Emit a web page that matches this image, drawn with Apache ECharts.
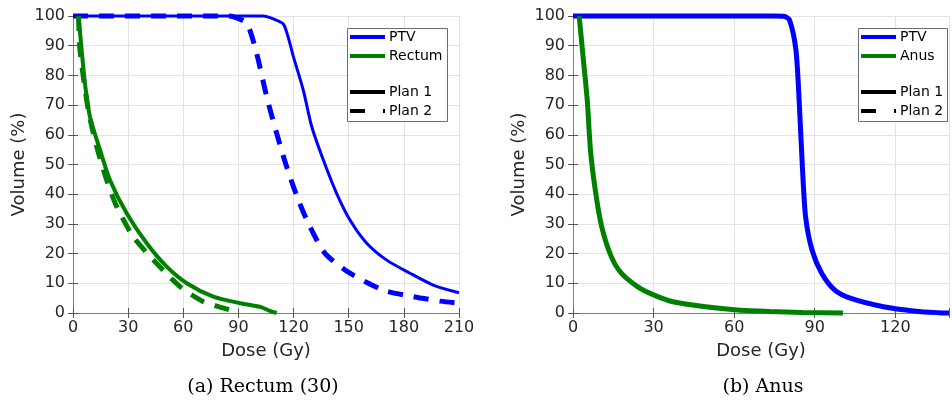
<!DOCTYPE html>
<html>
<head>
<meta charset="utf-8">
<script src="https://cdn.jsdelivr.net/npm/echarts@6/dist/echarts.min.js"></script>
<style>
html,body{margin:0;padding:0;background:#fff;}
#main{width:952px;height:401px;}
</style>
</head>
<body>
<div id="main"></div>
<script>
// (a) Rectum (30)
var ptvDose1 = [0, 60, 100, 103.5, 109, 114.4, 117, 119.9, 125.3, 129.9, 136.2, 143.4, 150.7, 159.8, 170.7, 183.3, 196, 210];
var ptvVol1  = [100, 100, 100, 100, 99, 97.3, 93, 86.3, 75, 62.7, 51.5, 40.3, 31.3, 23.5, 17.8, 13.4, 9.4, 6.8];
var ptvDose2 = [0, 60, 84, 87, 94.5, 99.9, 105.4, 110.8, 116.2, 122.6, 128.9, 137.1, 150.7, 168.8, 185.1, 200, 210];
var ptvVol2  = [100, 100, 100, 99.8, 97.5, 87.4, 72.8, 60.5, 49.3, 38, 29.1, 20.1, 13.4, 7.7, 5.5, 4, 3.3];
var rectumDose1 = [3, 4.7, 6.5, 9.2, 14.7, 20.1, 29.2, 40.1, 51, 61.9, 76.3, 90.9, 101.7, 106, 110.8];
var rectumVol1  = [100, 88.6, 77.3, 66.1, 54.9, 44.8, 33.6, 23.5, 15.6, 10, 5.5, 3.3, 2.1, 1, 0];
var rectumDose2 = [3, 3.8, 8.3, 12.9, 18.3, 23.8, 32.8, 45.5, 58.2, 70.9, 80, 89.5];
var rectumVol2  = [100, 88.6, 68.4, 56, 44.8, 35.8, 25.7, 16.7, 8.9, 3.8, 2, 0.3];

// (b) Anus
var ptvDoseB = [0, 60, 75, 78.5, 80.6, 83, 84.2, 85.4, 86.6, 89, 92.6, 97.5, 103.5, 115.6, 127.6, 136, 140];
var ptvVolB  = [100, 100, 100, 99.9, 98.7, 88.6, 71.7, 49.3, 32.4, 21.2, 13.4, 7.7, 4.9, 2.1, 0.6, 0.1, 0];
var anusDose = [2.3, 3.5, 5.3, 6.5, 8.3, 10.7, 14.3, 18, 24, 30, 37.2, 49.3, 61.3, 73.4, 85.4, 100.5];
var anusVol  = [100, 88.6, 71.7, 54.9, 41.4, 29, 18.9, 13.4, 8.9, 6.1, 3.8, 2.1, 1.0, 0.5, 0.2, 0];

var captions = ['(a) Rectum (30)', '(b) Anus'];

var BLUE = '#0000ff', GREEN = '#008000';
var FONT = 'DejaVu Sans';

function pairs(xs, ys){
    var out = [];
    for (var i = 0; i < xs.length; i++) out.push([xs[i], ys[i]]);
    return out;
}

function xAx(grid, max, top){
    return {
        type: 'value', gridIndex: grid, min: 0, max: max, interval: 30,
        position: top ? 'top' : 'bottom',
        axisLine: {show: true, lineStyle: {color: '#7f7f7f', width: 1}},
        axisTick: {show: true, inside: true, length: 5, lineStyle: {color: '#555'}},
        axisLabel: {show: !top, color: '#262626', fontFamily: FONT, fontSize: 16, margin: 7,
            formatter: function(v){ return v % 30 === 0 ? v : ''; }},
        splitLine: {show: !top, lineStyle: {color: '#e3e3e3', width: 1}},
        name: top ? '' : 'Dose (Gy)', nameLocation: 'middle', nameGap: 29,
        nameTextStyle: {color: '#262626', fontFamily: FONT, fontSize: 18}
    };
}
function yAx(grid, right){
    return {
        type: 'value', gridIndex: grid, min: 0, max: 100, interval: 10,
        position: right ? 'right' : 'left',
        axisLine: {show: true, lineStyle: {color: '#7f7f7f', width: 1}},
        axisTick: {show: true, inside: true, length: 5, lineStyle: {color: '#555'}},
        axisLabel: {show: !right, color: '#262626', fontFamily: FONT, fontSize: 16, margin: 8},
        splitLine: {show: !right, lineStyle: {color: '#e3e3e3', width: 1}},
        name: right ? '' : 'Volume (%)', nameLocation: 'middle', nameGap: 45, nameRotate: 90,
        nameTextStyle: {color: '#262626', fontFamily: FONT, fontSize: 18}
    };
}
function lineSeries(name, data, color, width, dashed, xi, yi){
    return {
        name: name, type: 'line', data: data, xAxisIndex: xi, yAxisIndex: yi,
        showSymbol: false, symbol: 'none', clip: false, smooth: 0.25,
        lineStyle: {color: color, width: width, type: dashed ? [15, 11] : 'solid'},
        itemStyle: {color: color}, z: 3
    };
}
function legendBase(left, top, items){
    return {
        left: left, top: top, orient: 'vertical', itemWidth: 35, itemHeight: 4, itemGap: 5,
        padding: 0, selectedMode: false,
        textStyle: {color: '#000', fontFamily: FONT, fontSize: 14, padding: [0, 0, 0, -1]},
        data: items, z: 6
    };
}
function legItem(name, color, icon){
    return {name: name, icon: icon || 'rect', itemStyle: {color: color, borderWidth: 0}};
}
var planItems = [
    legItem('Plan 1', '#000'),
    legItem('Plan 2', '#000', 'path://M0,0H15V4H0Z M33,0H35V4H33Z')
];

var myChart = echarts.init(document.getElementById('main'));
var option = {
    backgroundColor: '#fff',
    animation: false,
    title: [
        {text: captions[0], left: 258, top: 373, textAlign: 'center',
         textStyle: {fontFamily: 'DejaVu Serif', fontSize: 19, fontWeight: 'normal', color: '#000'}},
        {text: captions[1], left: 758, top: 373, textAlign: 'center',
         textStyle: {fontFamily: 'DejaVu Serif', fontSize: 19, fontWeight: 'normal', color: '#000'}}
    ],
    grid: [
        {left: 73, top: 16, width: 386, height: 297},
        {left: 573, top: 16, width: 387, height: 297}
    ],
    xAxis: [xAx(0, 210, false), xAx(0, 210, true), xAx(1, 140, false), xAx(1, 140, true)],
    yAxis: [yAx(0, false), yAx(0, true), yAx(1, false), yAx(1, true)],
    legend: [
        legendBase(350, 30, [legItem('PTV', BLUE), legItem('Rectum', GREEN)]),
        legendBase(350, 85, planItems),
        legendBase(861, 30, [legItem('PTV', BLUE), legItem('Anus', GREEN)]),
        legendBase(861, 85, planItems)
    ],
    graphic: [
        {type: 'rect', z: 5, shape: {x: 347.5, y: 28.5, width: 100, height: 93},
         style: {fill: '#fff', stroke: '#6e6e6e', lineWidth: 1}},
        {type: 'rect', z: 5, shape: {x: 858.5, y: 28.5, width: 89, height: 93},
         style: {fill: '#fff', stroke: '#6e6e6e', lineWidth: 1}}
    ],
    series: [
        lineSeries('PTV', pairs(ptvDose1, ptvVol1), BLUE, 3, false, 0, 0),
        lineSeries('PTV', pairs(ptvDose2, ptvVol2), BLUE, 5, true, 0, 0),
        lineSeries('Rectum', pairs(rectumDose1, rectumVol1), GREEN, 4, false, 0, 0),
        lineSeries('Rectum', pairs(rectumDose2, rectumVol2), GREEN, 5, true, 0, 0),
        lineSeries('Plan 1', [], '#000', 4, false, 0, 0),
        lineSeries('Plan 2', [], '#000', 4, true, 0, 0),
        lineSeries('PTV', pairs(ptvDoseB, ptvVolB), BLUE, 5, false, 2, 2),
        lineSeries('Anus', pairs(anusDose, anusVol), GREEN, 5, false, 2, 2)
    ]
};
myChart.setOption(option);
</script>
</body>
</html>
